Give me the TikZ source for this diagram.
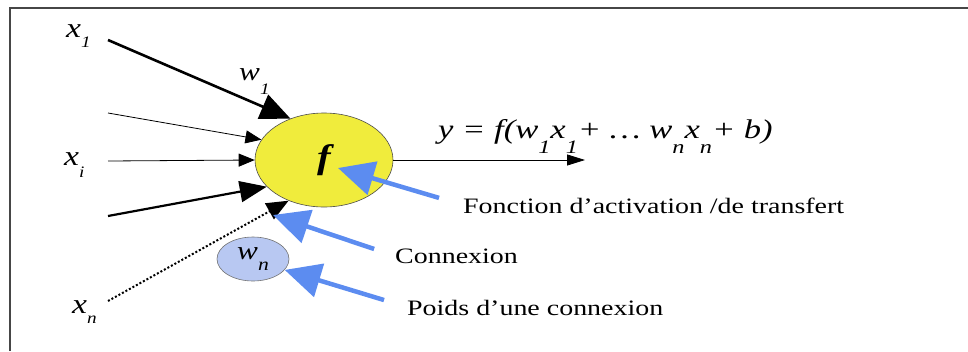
\documentclass[tikz,border=0pt]{standalone}
\usepackage{fontspec}
\setmainfont{Liberation Serif}[FakeStretch=1.27]
\newfontfamily\varfont{Liberation Serif}
\usetikzlibrary{shapes.geometric, arrows.meta, positioning}
\definecolor{neuronyellow}{RGB}{240, 236, 60}
\definecolor{weightblue}{RGB}{184, 200, 242}
\definecolor{pointerblue}{RGB}{92, 140, 240}
\definecolor{framegray}{RGB}{70, 70, 70}
\newcommand{\lowsub}[3][16]{\raisebox{-#2pt}{\fontsize{#1}{#1}\selectfont #3}}
\newcommand{\widevar}[2][1.2]{\scalebox{#1}[1]{\varfont\itshape #2}}

\tikzset{
  neuron/.style={ellipse, draw=black!70, line width=0.6pt, fill=neuronyellow,
                 minimum width=138pt, minimum height=94pt, inner sep=0pt},
  weightnode/.style={ellipse, draw=black!55, line width=0.6pt, fill=weightblue,
                 minimum width=72pt, minimum height=44pt, inner sep=0pt},
  varlabel/.style={anchor=base west, inner sep=0pt, font=\fontsize{28}{28}\selectfont},
  caption/.style={anchor=base west, inner sep=0pt, font=\fontsize{22}{26}\selectfont},
  heavyin/.style={line width=2.6pt, -{Triangle[length=30pt, width=26pt]}},
  lightin/.style={line width=0.8pt, -{Triangle[length=16pt, width=13pt]}},
  pointer/.style={pointerblue, line width=4.5pt, -{Triangle[length=36pt, width=34pt]}}
}

\begin{document}
\begin{tikzpicture}[x=1pt, y=-1pt]
    \useasboundingbox (0,0) rectangle (968,351);
    \draw[framegray, line width=2.2pt] (10,351) -- (10,8) -- (968,8);

    \node[neuron] (f) at (324,160) {\fontsize{34}{34}\selectfont\widevar{\bfseries f}};
    \node[weightnode] (wn) at (253,259) {\fontsize{26}{26}\selectfont\widevar{w\lowsub[18]{11}{n}}};

    \coordinate (in1) at (108,40);
    \coordinate (in2) at (108,113);
    \coordinate (in3) at (108,161);
    \coordinate (in4) at (108,216);
    \coordinate (in5) at (108,301);
    \coordinate (out) at (585,160);
    \coordinate (ftip) at (338,168);
    \coordinate (conn) at (273,215);

    \node[varlabel] (x1) at (66,37) {\widevar{x\lowsub{10}{1}}};
    \node[varlabel] (xi) at (64,165) {\widevar{x\lowsub{12}{i}}};
    \node[varlabel] (xn) at (72,313) {\widevar{x\lowsub{10}{n}}};
    \node[varlabel, font=\fontsize{26}{26}\selectfont] (w1) at (239,80) {\widevar{w\lowsub{14}{1}}};

    \draw[heavyin] (in1) -- (f.129);
    \draw[lightin] (in2) -- (f.162);
    \draw[lightin] (in3) -- (f.west);
    \draw[heavyin, line width=2.2pt, -{Triangle[length=27pt, width=21pt]}] (in4) -- (f.205);
    \draw[line width=2pt, dash pattern=on 2pt off 2pt, -{Triangle[length=22pt, width=18pt]}] (in5) -- (f.229);
    \draw[line width=0.8pt, -{Triangle[length=18pt, width=11pt]}] (f.east) -- (out);

    \node[varlabel, font=\fontsize{27}{27}\selectfont] (eq) at (438,138)
        {\widevar[1.28]{y = f(w\lowsub[19]{15}{1}x\lowsub[19]{15}{1}+ \dots\ w\lowsub[19]{15}{n}x\lowsub[19]{15}{n}+ b)}};

    \node[caption] (fct) at (463,213) {Fonction d'activation /de transfert};
    \node[caption] (cnx) at (395,263) {Connexion};
    \node[caption] (pds) at (407,315) {Poids d'une connexion};

    \draw[pointer, shorten <=25pt] (fct.west |- 0,205) -- (ftip);
    \draw[pointer, shorten <=22pt] (cnx.west |- 0,256) -- (conn);
    \draw[pointer, shorten <=24pt] (pds.west |- 0,307) -- (wn.341);
\end{tikzpicture}
\end{document}
